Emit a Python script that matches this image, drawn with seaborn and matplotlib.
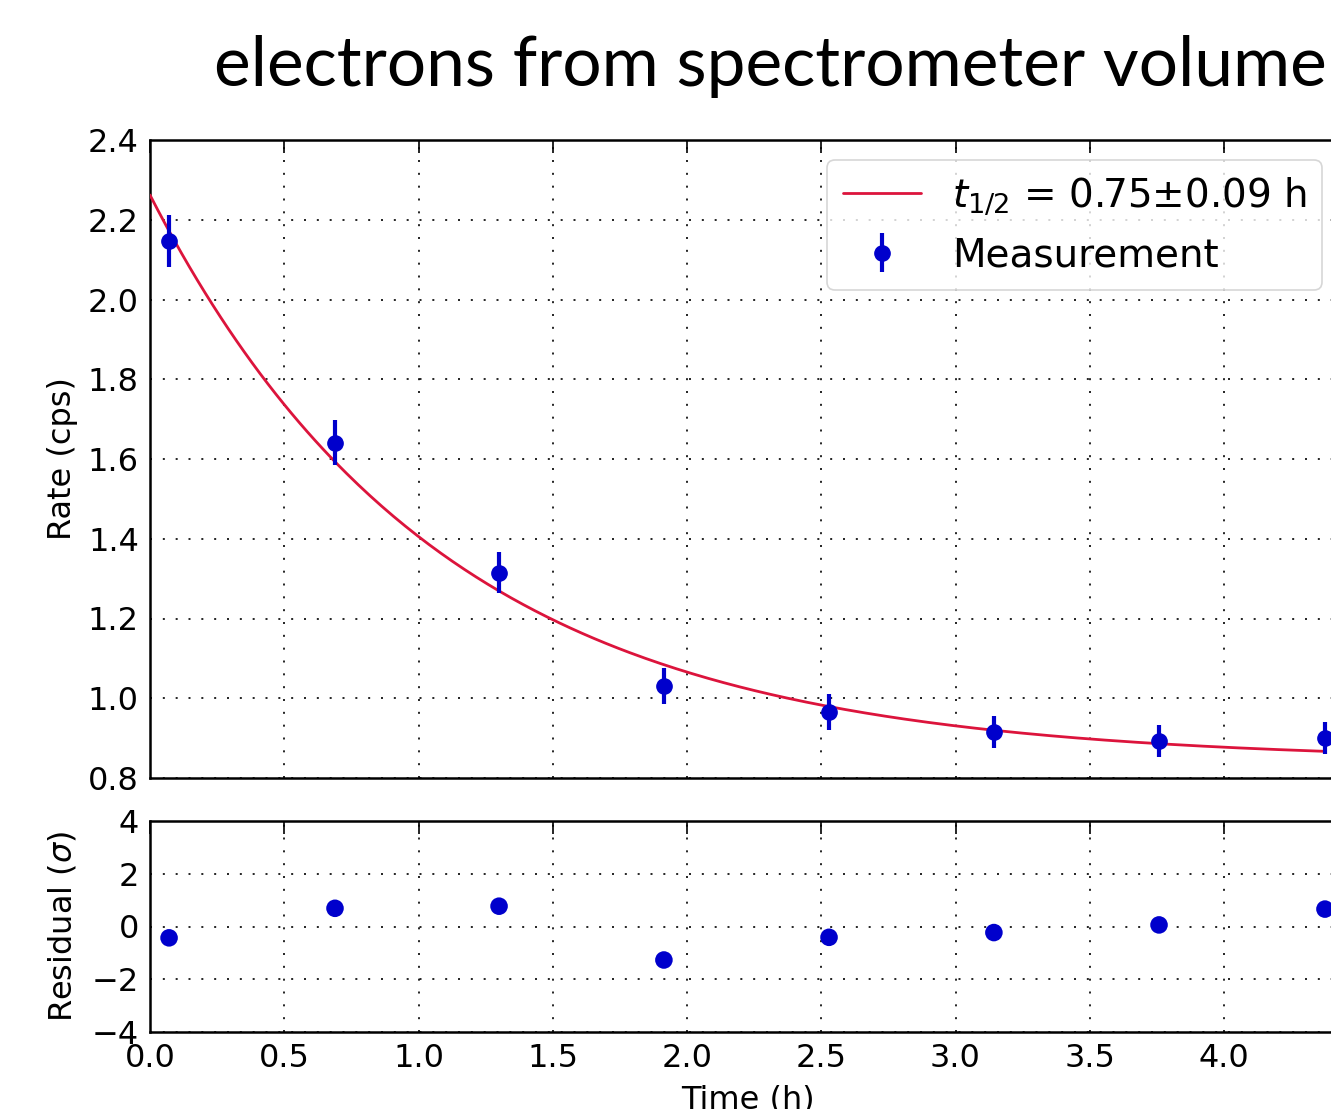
import numpy as np
import pandas as pd
import matplotlib
matplotlib.use("Agg")
import matplotlib.pyplot as plt
import seaborn as sns

# ---- data ----
time_h = [0.071, 0.689, 1.300, 1.914, 2.529, 3.143, 3.758, 4.376]
rate_cps = [2.147, 1.641, 1.315, 1.031, 0.966, 0.915, 0.893, 0.900]
rate_err = [0.066, 0.057, 0.051, 0.046, 0.045, 0.041, 0.041, 0.041]
residual_sigma = [-0.43, 0.69, 0.77, -1.27, -0.41, -0.23, 0.06, 0.66]

# fit parameters (exponential decay + constant)
half_life = 0.75
fit_amplitude = 1.42
fit_offset = 0.842

title_text = "electrons from spectrometer volume"
fit_label = r"$t_{1/2}$ = 0.75$\pm$0.09 h"
meas_label = "Measurement"
x_ticks = [0.0, 0.5, 1.0, 1.5, 2.0, 2.5, 3.0, 3.5, 4.0]
y_ticks_main = [0.8, 1.0, 1.2, 1.4, 1.6, 1.8, 2.0, 2.2, 2.4]
y_ticks_res = [-4, -2, 0, 2, 4]

sns.set_style("white")
plt.rcParams["font.family"] = ["DejaVu Sans"]
plt.rcParams["mathtext.fontset"] = "dejavusans"
for k in ("text.color", "axes.labelcolor", "xtick.color", "ytick.color"):
    plt.rcParams[k] = "black"

BLUE = "#0000CC"
RED = "crimson"

df = pd.DataFrame({"time": time_h, "rate": rate_cps, "err": rate_err,
                   "res": residual_sigma})
t_fit = np.linspace(0.0, time_h[-1], 300)
fit_df = pd.DataFrame({"time": t_fit,
                       "rate": fit_offset + fit_amplitude * np.exp(-np.log(2) * t_fit / half_life)})

W, H = 1331, 1109
fig = plt.figure(figsize=(W / 100, H / 100), dpi=100)

left_px, right_px = 150, 1345
ax = fig.add_axes([left_px / W, 1 - 778 / H, (right_px - left_px) / W, (778 - 140) / H])
axr = fig.add_axes([left_px / W, 1 - 1032 / H, (right_px - left_px) / W, (1032 - 821) / H])

# main panel
sns.lineplot(data=fit_df, x="time", y="rate", ax=ax, color=RED, lw=2, label=fit_label, zorder=3)
ax.errorbar(df["time"], df["rate"], yerr=df["err"], fmt="o", color=BLUE, ms=11,
            elinewidth=3, capsize=0, label=meas_label, zorder=4)

# residual panel
sns.scatterplot(data=df, x="time", y="res", ax=axr, color=BLUE, s=160,
                edgecolor="none", zorder=4, legend=False)

xmax = (right_px - left_px) / 268.5
for a in (ax, axr):
    a.set_xlim(0, xmax)
    a.set_xticks(x_ticks)
    a.grid(True, color="black", linestyle=(0, (1.2, 6.5)), linewidth=1.2)
    a.tick_params(direction="in", length=9, width=1.2, top=True, right=True,
                  labelsize=23, pad=8, colors="black")
    for s in a.spines.values():
        s.set_linewidth(1.8)
        s.set_color("black")
    a.set_axisbelow(True)

ax.set_ylim(0.8, 2.4)
ax.set_yticks(y_ticks_main)
ax.set_yticklabels([f"{v:.1f}" for v in y_ticks_main])
ax.set_xticklabels([])
ax.set_xlabel("")
ax.set_ylabel("Rate (cps)", fontsize=23)
ax.yaxis.set_label_coords((78 - left_px) / (right_px - left_px), 0.5)

axr.set_ylim(-4, 4)
axr.set_yticks(y_ticks_res)
axr.set_yticklabels([f"{v:d}".replace("-", "\u2212") for v in y_ticks_res])
axr.set_xticklabels([f"{v:.1f}" for v in x_ticks])
axr.set_ylabel(r"Residual ($\sigma$)", fontsize=23)
axr.yaxis.set_label_coords((78 - left_px) / (right_px - left_px), 0.5)
axr.set_xlabel("Time (h)", fontsize=23)
axr.xaxis.set_label_coords(0.5, -0.25)

handles, labels = ax.get_legend_handles_labels()
leg = ax.legend(handles, labels, loc="upper right",
                bbox_to_anchor=((1322 - left_px) / (right_px - left_px), (778 - 160) / (778 - 140)),
                borderaxespad=0, fontsize=28, handlelength=2.0, numpoints=1,
                frameon=True, fancybox=True, framealpha=0.8, labelspacing=0.5,
                borderpad=0.4, handletextpad=0.8)
leg.get_frame().set_edgecolor("#cccccc")
leg.get_frame().set_linewidth(1.2)

fig.text(770 / W, 1 - 86 / H, title_text, ha="center", va="baseline",
         fontsize=50, family=["Lato", "DejaVu Sans"], color="black")

fig.savefig("out.png", dpi=100)
